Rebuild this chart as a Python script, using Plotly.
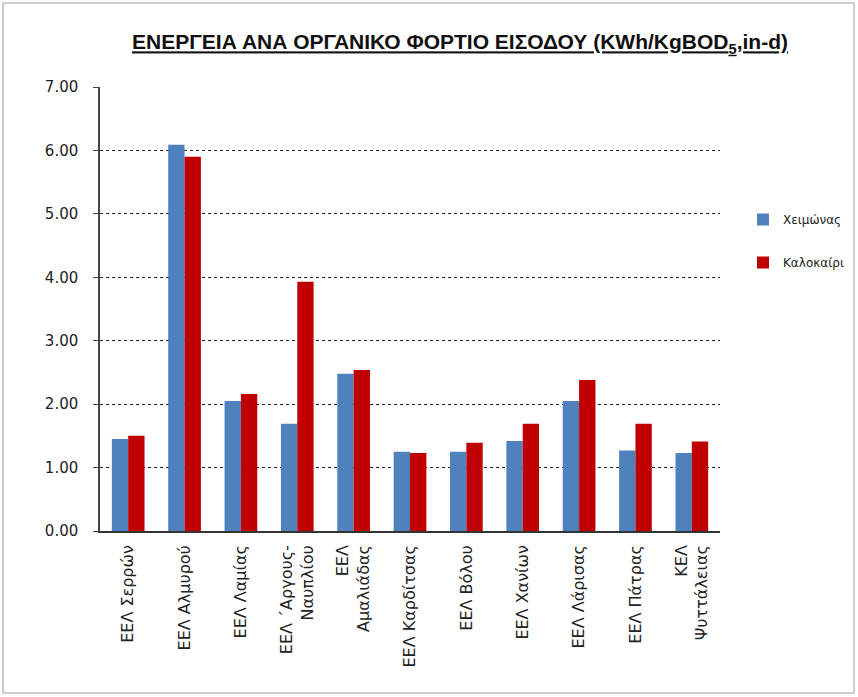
import plotly.graph_objects as go

categories = [
    "ΕΕΛ Σερρών", "ΕΕΛ Αλμυρού", "ΕΕΛ Λαμίας", "ΕΕΛ ΄Αργους-<br>Ναυπλίου",
    "ΕΕΛ<br>Αμαλιάδας", "ΕΕΛ Καρδίτσας", "ΕΕΛ Βόλου", "ΕΕΛ Χανίων",
    "ΕΕΛ Λάρισας", "ΕΕΛ Πάτρας", "ΚΕΛ<br>Ψυττάλειας",
]
winter = [1.45, 6.09, 2.05, 1.69, 2.48, 1.25, 1.25, 1.42, 2.05, 1.27, 1.23]
summer = [1.50, 5.90, 2.16, 3.93, 2.54, 1.23, 1.39, 1.69, 2.38, 1.69, 1.41]
series_names = ["Χειμώνας", "Καλοκαίρι"]
yticks = [0, 1, 2, 3, 4, 5, 6, 7]
ytick_text = ["%.2f" % v for v in yticks]

fig = go.Figure()
fig.add_trace(go.Bar(x=categories, y=winter, name=series_names[0],
                     marker=dict(color="#4F81BD", line=dict(width=0)),
                     legendgroup="a"))
fig.add_trace(go.Bar(x=categories, y=summer, name=series_names[1],
                     marker=dict(color="#C00000", line=dict(width=0)),
                     legendgroup="b"))

W, H = 858, 697
L, R, T, B = 100, 720, 87, 531
fig.update_layout(
    width=W, height=H,
    margin=dict(l=L, r=W - R, t=T, b=H - B, autoexpand=False),
    paper_bgcolor="white", plot_bgcolor="white",
    barmode="group", bargap=0.42, bargroupgap=0.0,
    font=dict(family="DejaVu Sans", color="#222222"),
    title=dict(
        text="<b><u>ΕΝΕΡΓΕΙΑ ΑΝΑ ΟΡΓΑΝΙΚΟ ΦΟΡΤΙΟ ΕΙΣΟΔΟΥ (KWh/KgBOD<sub>5</sub>,in-d)</u></b>",
        x=460 / W, xanchor="center", y=1 - 42 / H, yanchor="middle",
        font=dict(family="Liberation Sans", size=21, color="#111111"),
    ),
    legend=dict(
        x=(743 - L) / (R - L), y=(B - 205) / (B - T), xanchor="left", yanchor="top",
        font=dict(family="DejaVu Sans", size=12, color="#222222"),
        tracegroupgap=24, itemwidth=30, bgcolor="rgba(0,0,0,0)",
    ),
    xaxis=dict(
        tickangle=-90, tickfont=dict(family="DejaVu Sans", size=16, color="#222222"),
        showline=True, linecolor="#333333", linewidth=1.5, ticks="",
        showgrid=False, ticklabelstandoff=6, automargin=False,
    ),
    yaxis=dict(
        range=[0, 7], tickvals=yticks, ticktext=ytick_text,
        tickfont=dict(family="DejaVu Sans", size=15, color="#222222"),
        showline=True, linecolor="#444444", linewidth=1.5,
        ticks="outside", ticklen=5, tickcolor="#444444",
        showgrid=True, gridcolor="#222222", griddash="dot", gridwidth=1,
        zeroline=False, ticklabelstandoff=12, automargin=False,
    ),
    shapes=[dict(
        type="rect", xref="paper", yref="paper",
        x0=(3 - L) / (R - L), x1=(854 - L) / (R - L),
        y0=(B - 693) / (B - T), y1=(B - 3) / (B - T),
        line=dict(color="#999999", width=1), fillcolor="rgba(0,0,0,0)", layer="below",
    )],
)

fig.write_html("out.html")
